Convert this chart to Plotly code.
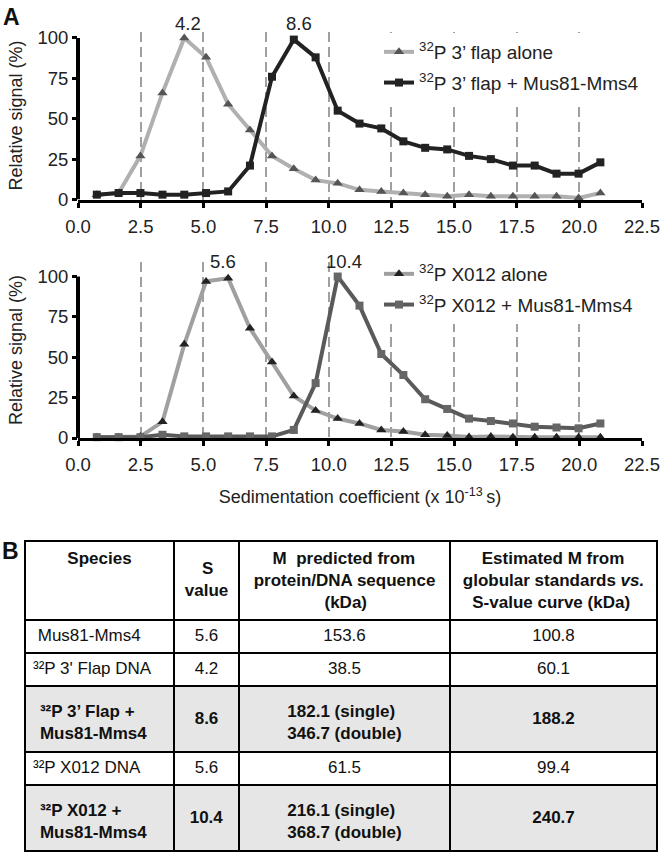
import plotly.graph_objects as go

# ---------------- data ----------------
s_coef = [0.75, 1.62, 2.49, 3.37, 4.24, 5.11, 5.99, 6.86, 7.74, 8.61, 9.48, 10.36,
          11.23, 12.10, 12.98, 13.85, 14.73, 15.60, 16.47, 17.35, 18.22, 19.09, 19.97, 20.84]

flap_alone = [3, 4, 27, 66, 100, 88, 59, 43, 27, 19, 12, 10, 6, 5, 4, 3, 2, 3, 2, 2, 2, 2, 1, 4]
flap_mus = [3, 4, 4, 3, 3, 4, 5, 21, 76, 99, 88, 55, 47, 44, 36, 32, 31, 27, 25, 21, 21, 16, 16, 23]
x012_alone = [0.5, 0.5, 1, 10, 58, 97, 99, 68, 47, 26, 17, 12, 9, 5, 4, 2, 1.5, 0.6, 1, 0.5, 0.5, 0.5, 0.5, 0.5]
x012_mus = [0.5, 0.5, 0.5, 2, 1, 1, 1, 1, 1, 5, 34, 100, 82, 52, 39, 24, 18, 12, 10.5, 9, 7, 6.5, 6, 9]

peaks_top = [4.2, 8.6]
peaks_bottom = [5.6, 10.4]

x_ticks = [0, 2.5, 5, 7.5, 10, 12.5, 15, 17.5, 20, 22.5]
y_ticks = [0, 25, 50, 75, 100]

names_top = ["<sup>32</sup>P 3’ flap alone", "<sup>32</sup>P 3’ flap + Mus81-Mms4"]
names_bottom = ["<sup>32</sup>P X012 alone", "<sup>32</sup>P X012 + Mus81-Mms4"]

header_species = "Species"
header_s = "S<br>value"
header_pred = "M  predicted from<br>protein/DNA sequence<br>(kDa)"
header_est = "Estimated M from<br>globular standards <i>vs.</i><br>S-value curve (kDa)"

species = ["Mus81-Mms4", "³²P 3' Flap DNA", "³²P 3’ Flap +<br>Mus81-Mms4",
           "³²P X012 DNA", "³²P X012 +<br>Mus81-Mms4"]
s_values = ["5.6", "4.2", "8.6", "5.6", "10.4"]
m_predicted = ["153.6", "38.5", "182.1 (single)<br>346.7 (double)", "61.5",
               "216.1 (single)<br>368.7 (double)"]
m_estimated = ["100.8", "60.1", "188.2", "99.4", "240.7"]
complex_rows = [False, False, True, False, True]

# ---------------- styling helpers ----------------
FONT = "Liberation Sans, Arial, sans-serif"
W, H = 666, 855
NB = "\u00a0"
CELL_FS = 17
TICK_FS = 18.5
LEG_FS = 19


def sp(size):
    # invisible spacer used to set placement inside table cells
    return f"<span style='font-size:{size}px'>{NB}</span>"


def px_x(p):
    return p / W


def px_y(p):
    return 1 - p / H


def fmt_species(t, big):
    if big:
        return "<b>" + "<br>".join(sp(25) + ln for ln in t.split("<br>")) + "</b>"
    return t if t.startswith("³") else NB + t


def fmt_single(t, big):
    # vertically centre a one-line value inside a two-line row
    if big:
        return ("<b>" + NB + "<br><sup>" + f"<span style='font-size:{CELL_FS}px'>{t}</span>"
                + "</sup></b>")
    return t


def fmt_two(t, big):
    if big:
        return "<b>" + "<br>".join(sp(25) + ln + sp(25) for ln in t.split("<br>")) + "</b>"
    return t


def center_lines(t, pads):
    return "<br>".join(NB * p + ln for p, ln in zip(pads, t.split("<br>")))


header = [
    "<b><br>" + header_species + "</b>",
    "<b>" + NB * 2 + sp(28) + header_s + "</b>",
    "<b>" + center_lines(header_pred, [4, 0, 15]) + "</b>",
    "<b>" + center_lines(header_est, [4, 0, 2]) + "</b>",
]
col_species = [fmt_species(t, b) for t, b in zip(species, complex_rows)]
col_s = [fmt_single(t, b) for t, b in zip(s_values, complex_rows)]
col_pred = [fmt_two(t, b) for t, b in zip(m_predicted, complex_rows)]
col_est = [fmt_single(t, b) for t, b in zip(m_estimated, complex_rows)]
row_fill = ["#e6e6e6" if b else "white" for b in complex_rows]

# ---------------- figure ----------------
fig = go.Figure()

fig.add_trace(go.Scatter(x=s_coef, y=flap_alone, name=names_top[0], mode="lines+markers",
                         line=dict(color="#b0b0b0", width=4),
                         marker=dict(symbol="triangle-up", size=9, color="#555555"),
                         cliponaxis=False, xaxis="x", yaxis="y", legend="legend",
                         legendgroup="a"))
fig.add_trace(go.Scatter(x=s_coef, y=flap_mus, name=names_top[1], mode="lines+markers",
                         line=dict(color="#222222", width=4),
                         marker=dict(symbol="square", size=8, color="#222222"),
                         cliponaxis=False, xaxis="x", yaxis="y", legend="legend",
                         legendgroup="b"))
fig.add_trace(go.Scatter(x=s_coef, y=x012_alone, name=names_bottom[0], mode="lines+markers",
                         line=dict(color="#a0a0a0", width=4),
                         marker=dict(symbol="triangle-up", size=9, color="#222222"),
                         cliponaxis=False, xaxis="x2", yaxis="y2", legend="legend2",
                         legendgroup="c"))
fig.add_trace(go.Scatter(x=s_coef, y=x012_mus, name=names_bottom[1], mode="lines+markers",
                         line=dict(color="#5a5a5a", width=4),
                         marker=dict(symbol="square", size=8, color="#666666"),
                         cliponaxis=False, xaxis="x2", yaxis="y2", legend="legend2",
                         legendgroup="d"))

fig.add_trace(go.Table(
    domain=dict(x=[px_x(25), px_x(657)], y=[0, px_y(541)]),
    columnwidth=[149, 65, 211, 207],
    header=dict(values=header, align="center", height=77,
                fill=dict(color="white"), line=dict(color="black", width=2),
                font=dict(family=FONT, size=17, color="#111")),
    cells=dict(values=[col_species, col_s, col_pred, col_est],
               align=["left", "center", "center", "center"], height=33,
               fill=dict(color=[row_fill] * 4), line=dict(color="black", width=2),
               font=dict(family=FONT, color="#111", size=CELL_FS)),
))

xa = dict(range=[0, 22.5], tickvals=x_ticks, tickformat=".1f", showline=True, linewidth=3,
          linecolor="black", ticks="outside", ticklen=5, tickwidth=3, tickcolor="black",
          showgrid=True, gridcolor="#a0a0a0", gridwidth=2, griddash="10px,5px",
          zeroline=False, automargin=False,
          tickfont=dict(family=FONT, size=TICK_FS, color="#222"), ticklabelstandoff=3)
ya = dict(tickvals=y_ticks, showline=False, ticks="outside", ticklen=5, tickwidth=3,
          tickcolor="black", showgrid=False, zeroline=False, automargin=False,
          tickfont=dict(family=FONT, size=TICK_FS, color="#222"),
          title=dict(text="Relative signal (%)", font=dict(family=FONT, size=18, color="#222"),
                     standoff=10))

leg = dict(xanchor="left", yanchor="top", bgcolor="white", itemwidth=30, tracegroupgap=3,
           font=dict(family=FONT, size=LEG_FS, color="#222"))

fig.update_layout(
    template="none",
    width=W, height=H, margin=dict(l=0, r=0, t=0, b=0, autoexpand=False),
    paper_bgcolor="white", plot_bgcolor="white",
    font=dict(family=FONT, size=18, color="#222"),
    xaxis=dict(xa, domain=[px_x(78), px_x(642)], anchor="y"),
    yaxis=dict(ya, domain=[px_y(199.5), px_y(31.5)], range=[0, 104], anchor="x"),
    xaxis2=dict(xa, domain=[px_x(78), px_x(642)], anchor="y2",
                title=dict(text="Sedimentation coefficient (x 10<sup>-13 </sup>s)",
                           font=dict(family=FONT, size=18, color="#222"), standoff=17)),
    yaxis2=dict(ya, domain=[px_y(438), px_y(262)], range=[0, 109], anchor="x2"),
    legend=dict(leg, x=px_x(379), y=px_y(33)),
    legend2=dict(leg, x=px_x(379), y=px_y(255)),
    showlegend=True,
)

# y axis lines spanning 0..100 only
for xr, yr in [("x domain", "y"), ("x2 domain", "y2")]:
    fig.add_shape(type="line", xref=xr, x0=0, x1=0, yref=yr, y0=0, y1=max(y_ticks),
                  line=dict(color="black", width=4))

# peak labels
for p in peaks_top:
    fig.add_annotation(x=p, y=100, xref="x", yref="y", text=f"{p:.1f}", showarrow=False,
                       yanchor="bottom", xshift=5, yshift=2,
                       font=dict(family=FONT, size=18.5, color="#222"))
for p in peaks_bottom:
    fig.add_annotation(x=p, y=100, xref="x2", yref="y2", text=f"{p:.1f}", showarrow=False,
                       yanchor="bottom", xshift=5, yshift=3,
                       font=dict(family=FONT, size=18.5, color="#222"))

# panel labels
fig.add_annotation(x=px_x(1), y=px_y(2), xref="paper", yref="paper", text="<b>A</b>",
                   showarrow=False, xanchor="left", yanchor="top",
                   font=dict(family=FONT, size=23, color="#111"))
fig.add_annotation(x=px_x(0), y=px_y(536), xref="paper", yref="paper", text="<b>B</b>",
                   showarrow=False, xanchor="left", yanchor="top",
                   font=dict(family=FONT, size=23, color="#111"))

fig.write_html("out.html", config={"displayModeBar": False},
               post_script="document.body.style.margin='0';")
